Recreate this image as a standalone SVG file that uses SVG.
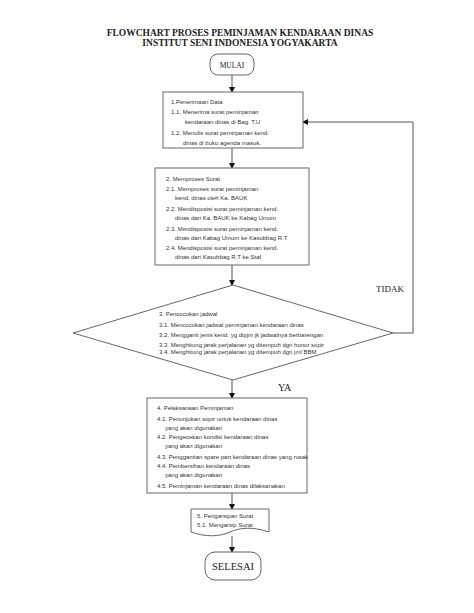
<svg xmlns="http://www.w3.org/2000/svg" width="474" height="613" viewBox="0 0 474 613">
<defs>
<marker id="ah" markerWidth="6" markerHeight="6" refX="5" refY="3" orient="auto" markerUnits="userSpaceOnUse">
<path d="M0,0 L6,3 L0,6 Z" fill="#111"/>
</marker>
<style>
.s{fill:#fff;stroke:#666;stroke-width:1}
.c{fill:none;stroke:#555;stroke-width:1}
.t{font-family:"Liberation Sans",Arial,sans-serif;font-size:6px;fill:#333}
.r{font-family:"Liberation Serif","Times New Roman",serif;fill:#222}
</style>
</defs>
<rect width="474" height="613" fill="#fff"/>
<g id="title">
<text class="r" x="240" y="36" font-size="9.5" font-weight="bold" text-anchor="middle">FLOWCHART PROSES PEMINJAMAN KENDARAAN DINAS</text>
<text class="r" x="240" y="46" font-size="9.5" font-weight="bold" text-anchor="middle">INSTITUT SENI INDONESIA YOGYAKARTA</text>
</g>
<g id="connectors">
<line class="c" x1="232" y1="75" x2="232" y2="92" marker-end="url(#ah)"/>
<line class="c" x1="232" y1="148" x2="232" y2="168" marker-end="url(#ah)"/>
<line class="c" x1="232" y1="265" x2="232" y2="285" marker-end="url(#ah)"/>
<polyline class="c" points="393,333 413,333 413,122 303,122" marker-end="url(#ah)"/>
<line class="c" x1="232" y1="380" x2="232" y2="398" marker-end="url(#ah)"/>
<line class="c" x1="232" y1="493" x2="232" y2="509" marker-end="url(#ah)"/>
<line class="c" x1="232" y1="536" x2="232" y2="552" marker-end="url(#ah)"/>
<text class="r" x="376" y="292" font-size="9">TIDAK</text>
<text class="r" x="278" y="391" font-size="10">YA</text>
</g>
<g id="mulai">
<rect class="s" x="210" y="54" width="44" height="21" rx="8"/>
<text class="r" x="232" y="67.5" font-size="7.5" text-anchor="middle">MULAI</text>
</g>
<g id="n1">
<rect class="s" x="163" y="92" width="140" height="56"/>
<text class="t"><tspan x="171" y="104">1.Penerimaan Data</tspan><tspan x="171" y="114">1.1. Menerima surat peminjaman</tspan><tspan x="185" y="124">kendaraan dinas di Bag. T.U</tspan><tspan x="171" y="135">1.2. Menulis surat peminjaman kend.</tspan><tspan x="183" y="145">dinas di buku agenda masuk.</tspan></text>
</g>
<g id="n2">
<rect class="s" x="155" y="168" width="154" height="97"/>
<text class="t" font-size="5.6"><tspan x="166" y="181">2. Memproses Surat</tspan><tspan x="166" y="191">2.1. Memproses surat peminjaman</tspan><tspan x="175" y="200">kend. dinas oleh Ka. BAUK</tspan><tspan x="166" y="211">2.2. Mendisposisi surat peminjaman kend.</tspan><tspan x="175" y="220">dinas dari Ka. BAUK ke Kabag Umum</tspan><tspan x="166" y="231">2.3. Mendisposisi surat peminjaman kend.</tspan><tspan x="175" y="240">dinas dari Kabag Umum ke Kasubbag R.T</tspan><tspan x="166" y="250">2.4. Mendisposisi surat peminjaman kend.</tspan><tspan x="175" y="259">dinas dari Kasubbag R.T ke Staf</tspan></text>
</g>
<g id="n3">
<polygon class="s" points="233,285 393,333 233,380 73,333"/>
<text class="t"><tspan x="159" y="316">3. Pencocokan jadwal</tspan><tspan x="159" y="327">3.1. Mencocokan jadwal peminjaman.kendaraan dinas</tspan><tspan x="159" y="337">3.2. Mengganti jenis kend. yg dipjm jk jadwalnya berbarengan</tspan><tspan x="159" y="347">3.3. Menghitung jarak perjalanan yg ditempuh dgn honor sopir</tspan><tspan x="159" y="354">3.4. Menghitung jarak perjalanan yg ditempuh dgn jml BBM</tspan></text>
</g>
<g id="n4">
<rect class="s" x="147" y="398" width="160" height="95"/>
<text class="t"><tspan x="157" y="410">4. Pelaksanaan Peminjaman</tspan><tspan x="157" y="421">4.1. Penunjukan sopir untuk kendaraan dinas</tspan><tspan x="165" y="429.5">yang akan digunakan</tspan><tspan x="157" y="439">4.2. Pengecekan kondisi kendaraan dinas</tspan><tspan x="165" y="448">yang akan digunakan</tspan><tspan x="157" y="459">4.3. Penggantian spare part kendaraan dinas yang rusak</tspan><tspan x="157" y="468">4.4. Pembersihan  kendaraan dinas</tspan><tspan x="165" y="477">yang akan digunakan</tspan><tspan x="157" y="488">4.5. Peminjaman kendaraan dinas dilaksanakan</tspan></text>
</g>
<g id="n5">
<path class="s" d="M191,509 H269 V532 C251,526 239,528 230,532 C219,537 205,537 191,532 Z"/>
<text class="t"><tspan x="197" y="518">5. Pengarsipan Surat</tspan><tspan x="197" y="527">5.1. Mengarsip Surat</tspan></text>
</g>
<g id="selesai">
<rect class="s" x="205" y="552" width="56" height="28" rx="10"/>
<text class="r" x="233" y="570" font-size="10.5" text-anchor="middle">SELESAI</text>
</g>
</svg>
